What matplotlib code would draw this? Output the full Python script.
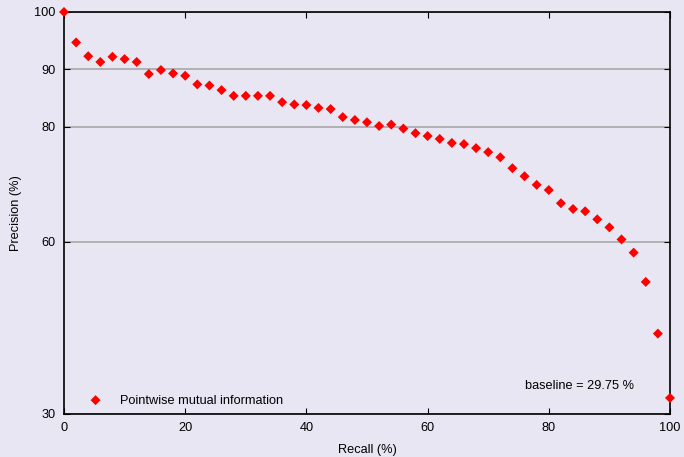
import numpy as np
import matplotlib
matplotlib.use("Agg")
import matplotlib.pyplot as plt

plt.rcParams["font.family"] = ["Liberation Sans", "DejaVu Sans"]

recall = list(range(0, 101, 2))
precision = [100.0, 94.7, 92.3, 91.3, 92.2, 91.8, 91.3, 89.2, 89.9, 89.3,
             88.9, 87.4, 87.2, 86.4, 85.4, 85.4, 85.4, 85.4, 84.3, 83.9,
             83.8, 83.3, 83.1, 81.7, 81.2, 80.8, 80.15, 80.4, 79.7, 78.9,
             78.4, 77.9, 77.2, 77.0, 76.3, 75.6, 74.7, 72.8, 71.4, 69.9,
             69.0, 66.7, 65.7, 65.3, 63.9, 62.5, 60.4, 58.1, 53.0, 44.0,
             32.8]
yticks = [30, 60, 80, 90, 100]
xticks = [0, 20, 40, 60, 80, 100]
series_name = "Pointwise mutual information"
baseline = 29.75

bg = "#e8e6f2"
fs = 9.2
fig = plt.figure(figsize=(6.84, 4.57), dpi=100, facecolor=bg)
ax = fig.add_axes([64/684, 1-414/457, (670-64)/684, (414-12)/457])
ax.set_facecolor(bg)

ax.scatter(recall, precision, marker="D", s=26, color="#ff0000",
           edgecolors="none", clip_on=False, zorder=3, label=series_name)

ax.set_xlim(0, 100)
ax.set_ylim(30, 100)
ax.set_xticks(xticks)
ax.set_yticks(yticks)
ax.yaxis.grid(True, color="#a8a8a8", lw=1.2)
ax.set_axisbelow(True)
ax.tick_params(direction="in", top=True, right=True, length=4,
               labelsize=fs, pad=6)
for s in ax.spines.values():
    s.set_linewidth(1.2)
    s.set_color("black")

ax.set_xlabel("Recall (%)", fontsize=fs)
ax.set_ylabel("Precision (%)", fontsize=fs)
ax.xaxis.set_label_coords(0.5, -0.075)
ax.yaxis.set_label_coords(-0.07, 0.5)

ax.legend(loc="lower left", bbox_to_anchor=(0.012, -0.01), frameon=False,
          fontsize=fs, handletextpad=0.9)
ax.text(0.941, 0.055, f"baseline = {baseline} %", transform=ax.transAxes,
        ha="right", va="bottom", fontsize=fs)

fig.savefig("out.png", dpi=100, facecolor=bg)
